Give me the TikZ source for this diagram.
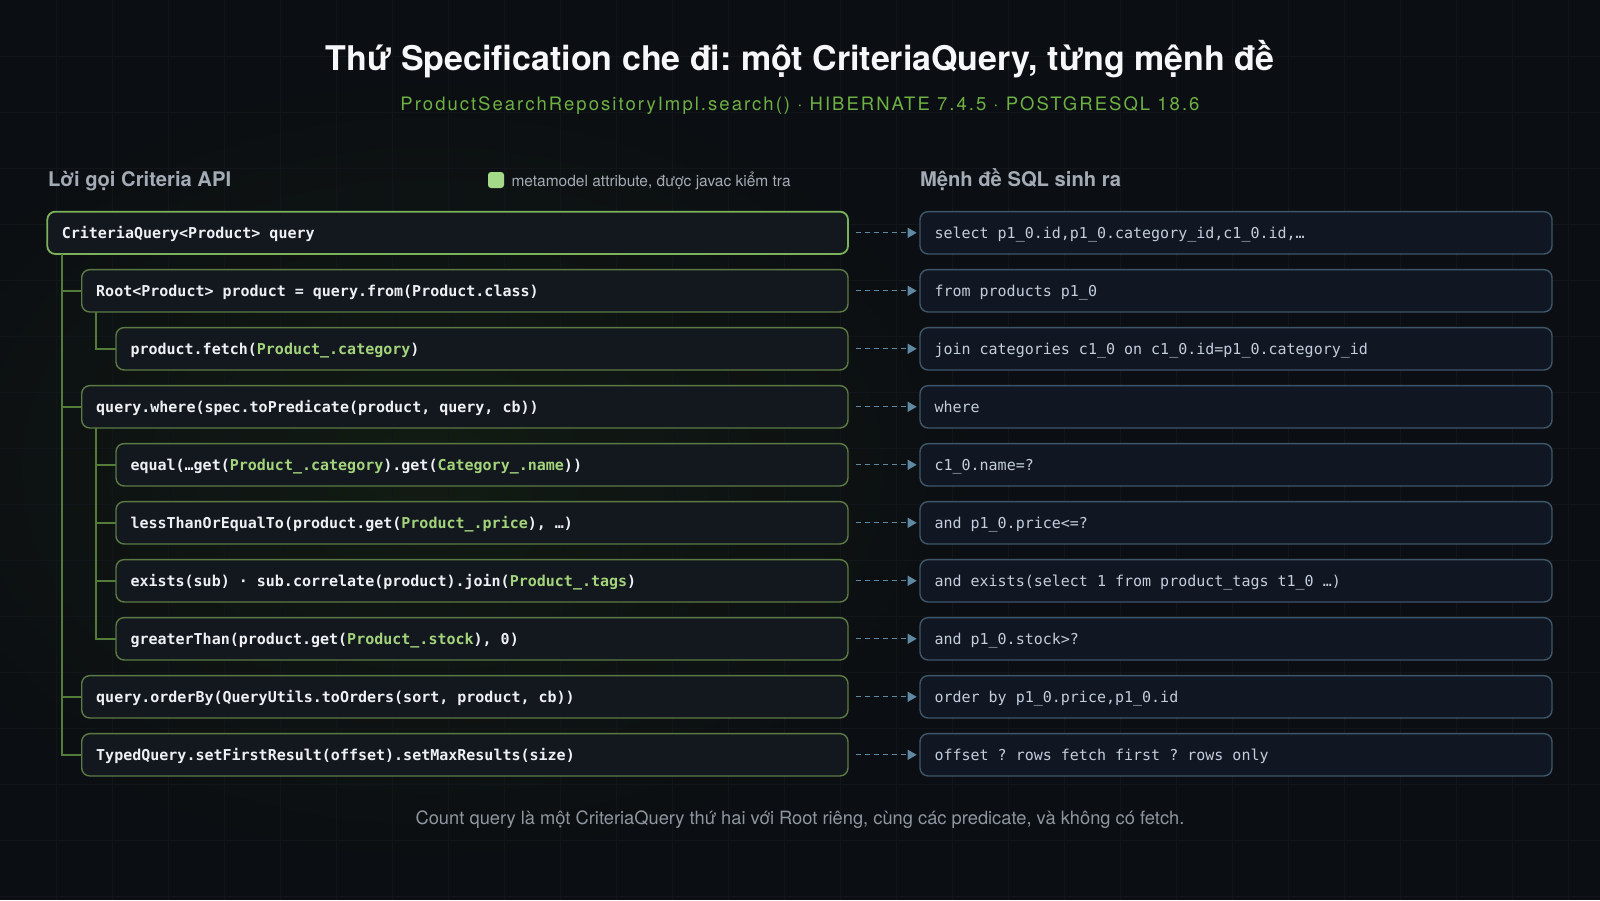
\documentclass[tikz,border=0pt]{standalone}
\usepackage{fontspec}
\setmainfont{TeX Gyre Heros}
\newfontfamily\codefont{DejaVu Sans Mono}
\newfontfamily\subfont[LetterSpace=11]{TeX Gyre Heros}
\usetikzlibrary{arrows.meta}
\definecolor{bg}{HTML}{0B0E12}
\definecolor{gridc}{HTML}{12161B}
\definecolor{glow}{HTML}{121B13}
\definecolor{lfill}{HTML}{13171E}
\definecolor{rfill}{HTML}{111722}
\definecolor{topborder}{HTML}{7CB35A}
\definecolor{lborder}{HTML}{5C7A44}
\definecolor{rborder}{HTML}{3E566A}
\definecolor{connc}{HTML}{5F88A3}
\definecolor{codewhite}{HTML}{EEF1F4}
\definecolor{hlc}{HTML}{A3D47C}
\definecolor{sqltext}{HTML}{C3CEDA}
\definecolor{headc}{HTML}{A3ABB5}
\definecolor{footc}{HTML}{8E969F}
\definecolor{subc}{HTML}{6DB043}
\definecolor{titlec}{HTML}{F5F7F9}
\definecolor{treec}{HTML}{527C38}
\definecolor{legc}{HTML}{A5D98A}
\newcommand{\hl}[1]{\textcolor{hlc}{#1}}
\newcommand{\ms}{\hbox to 9.03pt{}}
\tikzset{
  boxbase/.style={rounded corners=8pt, anchor=west, minimum height=42.3pt,
    inner xsep=14.5pt, inner ysep=0pt, outer sep=0pt, text height=11pt, text depth=0pt, align=left},
  lbox/.style={boxbase, draw=lborder, line width=1.4pt, fill=lfill, text=codewhite,
    font=\codefont\bfseries\fontsize{15}{18}\selectfont},
  lvl0/.style={lbox, draw=topborder, line width=1.8pt, text width=771.7pt},
  lvl1/.style={lbox, text width=737.3pt},
  lvl2/.style={lbox, text width=703pt},
  rbox/.style={boxbase, draw=rborder, line width=1.4pt, fill=rfill, text=sqltext,
    font=\codefont\fontsize{15}{18}\selectfont, text width=603pt},
  conn/.style={draw=connc, line width=1.3pt, dash pattern=on 5pt off 4pt,
    shorten <=8pt, shorten >=3.3pt, -{Triangle[length=9pt,width=10pt,fill=connc]}},
  tree/.style={draw=treec, line width=1.8pt},
  txt/.style={inner sep=0pt, outer sep=0pt},
}
\begin{document}
\frenchspacing
\begin{tikzpicture}[x=1pt,y=-1pt]
\useasboundingbox (0,0) rectangle (1600,900);
\fill[bg] (0,0) rectangle (1600,900);
\shade[inner color=glow, outer color=bg] (430,470) ellipse (560 and 400);
\foreach \gx in {56,112,...,1568} \draw[gridc, line width=0.8pt] (\gx,0) -- (\gx,900);
\foreach \gy in {56,112,...,896} \draw[gridc, line width=0.8pt] (0,\gy) -- (1600,\gy);

% titles
\node[txt, anchor=base, text=titlec, font=\bfseries\fontsize{34}{40}\selectfont] (title) at (800,70)
  {Thứ Specification che đi: một CriteriaQuery, từng mệnh đề};
\node[txt, anchor=base, text=subc, font=\subfont\fontsize{18.5}{22}\selectfont] (subtitle) at (800,110.5)
  {ProductSearchRepositoryImpl.search() · HIBERNATE 7.4.5 · POSTGRESQL 18.6};

% headings
\node[txt, anchor=base west, text=headc, font=\bfseries\fontsize{20.2}{24}\selectfont] (hleft) at (48,186) {Lời gọi Criteria API};
\node[fill=legc, rounded corners=3pt, minimum width=16pt, minimum height=16pt, inner sep=0pt] (legsq) at (496,180) {};
\node[txt, anchor=base west, text=headc, font=\fontsize{15.5}{18}\selectfont] (legtxt) at (511.5,186) {metamodel attribute, được javac kiểm tra};
\node[txt, anchor=base west, text=headc, font=\bfseries\fontsize{20.2}{24}\selectfont] (hright) at (920,186) {Mệnh đề SQL sinh ra};

% left column
\node[lvl0] (L1) at (47.3,232.8) {CriteriaQuery<Product>\ms query};
\node[lvl1] (L2) at (81.7,290.8) {Root<Product>\ms product\ms=\ms query.from(Product.class)};
\node[lvl2] (L3) at (116,348.8) {product.fetch(\hl{Product\_.category})};
\node[lvl1] (L4) at (81.7,406.8) {query.where(spec.toPredicate(product,\ms query,\ms cb))};
\node[lvl2] (L5) at (116,464.8) {equal(…get(\hl{Product\_.category}).get(\hl{Category\_.name}))};
\node[lvl2] (L6) at (116,522.8) {lessThanOrEqualTo(product.get(\hl{Product\_.price}),\ms …)};
\node[lvl2] (L7) at (116,580.8) {exists(sub)\ms·\ms sub.correlate(product).join(\hl{Product\_.tags})};
\node[lvl2] (L8) at (116,638.8) {greaterThan(product.get(\hl{Product\_.stock}),\ms 0)};
\node[lvl1] (L9) at (81.7,696.8) {query.orderBy(QueryUtils.toOrders(sort,\ms product,\ms cb))};
\node[lvl1] (L10) at (81.7,754.8) {TypedQuery.setFirstResult(offset).setMaxResults(size)};

% right column
\node[rbox] (R1) at (920,232.8) {select\ms p1\_0.id,p1\_0.category\_id,c1\_0.id,…};
\node[rbox] (R2) at (920,290.8) {from\ms products\ms p1\_0};
\node[rbox] (R3) at (920,348.8) {join\ms categories\ms c1\_0\ms on\ms c1\_0.id=p1\_0.category\_id};
\node[rbox] (R4) at (920,406.8) {where};
\node[rbox] (R5) at (920,464.8) {c1\_0.name=?};
\node[rbox] (R6) at (920,522.8) {and\ms p1\_0.price<=?};
\node[rbox] (R7) at (920,580.8) {and\ms exists(select\ms 1\ms from\ms product\_tags\ms t1\_0\ms …)};
\node[rbox] (R8) at (920,638.8) {and\ms p1\_0.stock>?};
\node[rbox] (R9) at (920,696.8) {order\ms by\ms p1\_0.price,p1\_0.id};
\node[rbox] (R10) at (920,754.8) {offset\ms ?\ms rows\ms fetch\ms first\ms ?\ms rows\ms only};

% tree lines
\foreach \c in {L2,L4,L9,L10} \draw[tree] ([xshift=15pt]L1.south west) |- (\c.west);
\draw[tree] ([xshift=14.3pt]L2.south west) |- (L3.west);
\foreach \c in {L5,L6,L7,L8} \draw[tree] ([xshift=14.3pt]L4.south west) |- (\c.west);

% connectors
\foreach \i in {1,...,10} \draw[conn] (L\i.east) -- (R\i.west);

% footer
\node[txt, anchor=base, text=footc, font=\fontsize{18.3}{22}\selectfont] (footer) at (800,824.5)
  {Count query là một CriteriaQuery thứ hai với Root riêng, cùng các predicate, và không có fetch.};
\end{tikzpicture}
\end{document}
